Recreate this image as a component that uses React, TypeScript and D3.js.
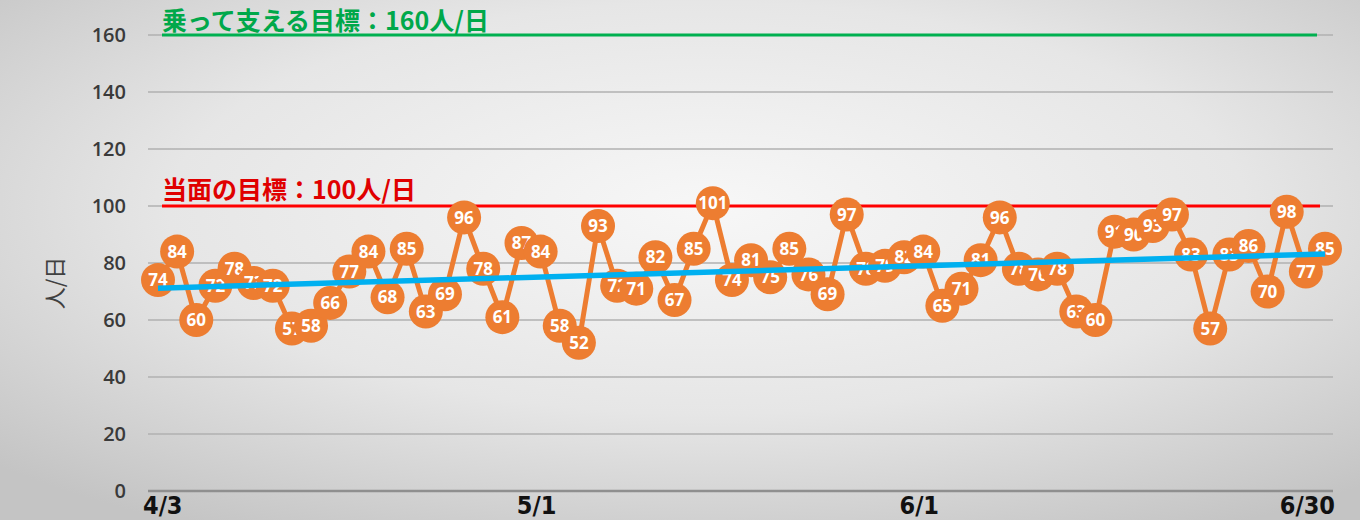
import React from 'react'
import * as d3 from 'd3'

// 日別の利用者数（人/日）
const visitors = [
  74, 84, 60, 72, 78, 73, 72, 57, 58, 66, 77, 84, 68, 85, 63, 69, 96, 78, 61, 87,
  84, 58, 52, 93, 72, 71, 82, 67, 85, 101, 74, 81, 75, 85, 76, 69, 97, 78, 79, 82,
  84, 65, 71, 81, 96, 78, 76, 78, 63, 60, 91, 90, 93, 97, 83, 57, 83, 86, 70, 98,
  77, 85
]

const tickLabels = ['4/3', '5/1', '6/1', '6/30']
const tickIndex = [0, 20, 40, 61]
const yTicks = [0, 20, 40, 60, 80, 100, 120, 140, 160]

const goals = [
  { label: '乗って支える目標：160人/日', value: 160, color: '#00B050', textColor: '#00A84A', size: 25, gap: 5 },
  { label: '当面の目標：100人/日', value: 100, color: '#FF0000', textColor: '#E00000', size: 25, gap: 7 }
]

const W = 1365
const H = 520

const App: React.FC = () => {
  const x = d3.scaleLinear().domain([0, visitors.length - 1]).range([158, 1325])
  const y = d3.scaleLinear().domain([0, 160]).range([491, 35])

  // 線形近似（最小二乗法）
  const idx = visitors.map((_, i) => i)
  const mx = d3.mean(idx) as number
  const my = d3.mean(visitors) as number
  const sxy = d3.sum(idx, i => (i - mx) * (visitors[i] - my))
  const sxx = d3.sum(idx, i => (i - mx) * (i - mx))
  const slope = sxy / sxx
  const icpt = my - slope * mx
  const trend = (i: number) => icpt + slope * i

  const line = d3.line<number>()
    .x((_, i) => x(i))
    .y(d => y(d))

  const font = '"Open Sans", "Noto Sans", sans-serif'
  const cjk = '"Noto Sans CJK JP", "Noto Sans", sans-serif'

  return (
    <svg width={W} height={H} style={{ position: 'absolute', left: 0, top: 0, display: 'block' }}>
      <defs>
        <radialGradient id="bg" cx="52%" cy="40%" r="72%">
          <stop offset="0%" stopColor="#f7f7f7" />
          <stop offset="55%" stopColor="#e6e6e6" />
          <stop offset="100%" stopColor="#c4c4c4" />
        </radialGradient>
      </defs>
      <rect x={0} y={0} width={W} height={H} fill="#ffffff" />
      <rect x={0} y={0} width={1360} height={520} fill="url(#bg)" />

      {/* グリッド線 */}
      {yTicks.map(t => (
        <line key={t} x1={148} x2={1333} y1={y(t)} y2={y(t)}
          stroke={t === 0 ? '#8f8f8f' : '#b0b0b0'} strokeWidth={t === 0 ? 2.5 : 1.5} />
      ))}

      {/* Y軸ラベル */}
      {yTicks.map(t => (
        <text key={t} x={126} y={y(t)} dy="0.35em" textAnchor="end"
          fontFamily={font} fontWeight={600} fontSize={20} fill="#3a3a3a">{t}</text>
      ))}
      <text transform={`translate(55, ${y(73)}) rotate(-90)`} textAnchor="middle" dy="0.35em"
        fontFamily={cjk} fontSize={22} fill="#404040">人/日</text>

      {/* X軸ラベル */}
      {tickLabels.map((l, k) => (
        <text key={l} x={x(tickIndex[k]) + (k === 0 ? -15 : k === tickLabels.length - 1 ? 10 : -4)} y={514}
          textAnchor={k === 0 ? 'start' : k === tickLabels.length - 1 ? 'end' : 'middle'}
          fontFamily='"Liberation Sans Narrow", "DejaVu Sans Condensed", sans-serif'
          fontWeight="bold" fontSize={25} fill="#111">{l}</text>
      ))}

      {/* 目標線 */}
      {goals.map(g => (
        <g key={g.label}>
          <line x1={162} x2={g.value === 160 ? 1317 : 1320} y1={y(g.value)} y2={y(g.value)}
            stroke={g.color} strokeWidth={3} />
          <text x={162} y={y(g.value) - g.gap} fontFamily={cjk} fontWeight="bold" fontSize={g.size}
            fill={g.textColor}>{g.label}</text>
        </g>
      ))}

      {/* 実績 */}
      <path d={line(visitors) || ''} fill="none" stroke="#ED7D31" strokeWidth={5} strokeLinejoin="round" />
      {visitors.map((v, i) => (
        <g key={i}>
          <circle cx={x(i)} cy={y(v)} r={17} fill="#ED7D31" />
          <text x={x(i)} y={y(v)} dy="0.36em" textAnchor="middle" fontFamily={font}
            fontWeight="bold" fontSize={17} fill="#ffffff">{v}</text>
        </g>
      ))}

      {/* 近似直線 */}
      <line x1={x(0)} x2={x(visitors.length - 1)} y1={y(trend(0))} y2={y(trend(visitors.length - 1))}
        stroke="#00B0F0" strokeWidth={5.5} />
    </svg>
  )
}

export default App
